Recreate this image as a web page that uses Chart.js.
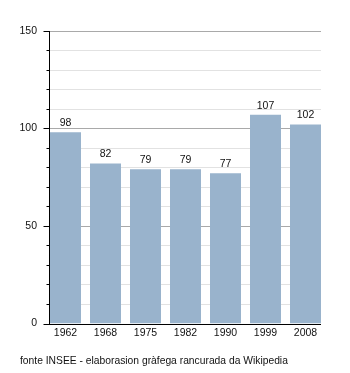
<!DOCTYPE html>
<html>
<head>
<meta charset="utf-8">
<script src="https://cdn.jsdelivr.net/npm/chart.js@4"></script>
<style>
  html, body { margin: 0; padding: 0; background: #fff; }
  #wrap { width: 350px; height: 373px; }
</style>
</head>
<body>
<div id="wrap"><canvas id="chart" width="350" height="373"></canvas></div>
<script>
const years = ['1962', '1968', '1975', '1982', '1990', '1999', '2008'];
const population = [98, 82, 79, 79, 77, 107, 102];
const yTicks = [0, 50, 100, 150];
const sourceNote = 'fonte INSEE - elaborasion gràfega rancurada da Wikipedia';

const FONT = '"Liberation Sans", Arial, sans-serif';

// axes, grid and labels drawn by hand so they line up with the outer bar edges
const axisPlugin = {
  id: 'axisPlugin',
  beforeDatasetsDraw(chart) {
    const ctx = chart.ctx;
    const y = chart.scales.y;
    const bars = chart.getDatasetMeta(0).data;
    const x0 = Math.round(bars[0].x - bars[0].width / 2);
    const x1 = Math.round(bars[bars.length - 1].x + bars[bars.length - 1].width / 2);
    ctx.save();
    ctx.lineWidth = 1;
    for (let v = 10; v <= 150; v += 10) {
      const py = Math.round(y.getPixelForValue(v)) + 0.5;
      ctx.strokeStyle = v % 50 === 0 ? '#a9a9a9' : '#e2e2e2';
      ctx.beginPath();
      ctx.moveTo(x0, py);
      ctx.lineTo(x1, py);
      ctx.stroke();
    }
    ctx.restore();
  },
  afterDatasetsDraw(chart) {
    const ctx = chart.ctx;
    const y = chart.scales.y;
    const meta = chart.getDatasetMeta(0);
    const bars = meta.data;
    const x0 = Math.round(bars[0].x - bars[0].width / 2);
    const x1 = Math.round(bars[bars.length - 1].x + bars[bars.length - 1].width / 2);
    const yTop = Math.round(y.getPixelForValue(150));
    const yBot = Math.round(y.getPixelForValue(0)) + 0.5;
    ctx.save();
    ctx.strokeStyle = '#000';
    ctx.lineWidth = 1;
    ctx.beginPath();
    ctx.moveTo(x0 - 0.5, yTop);
    ctx.lineTo(x0 - 0.5, yBot);
    ctx.moveTo(x0 - 1, yBot);
    ctx.lineTo(x1, yBot);
    for (let v = 0; v <= 150; v += 10) {
      const py = Math.round(y.getPixelForValue(v)) + 0.5;
      const len = v % 50 === 0 ? 6 : 3;
      ctx.moveTo(x0 - 0.5 - len, py);
      ctx.lineTo(x0 - 0.5, py);
    }
    ctx.stroke();

    ctx.fillStyle = '#111';
    ctx.font = '10.5px ' + FONT;
    ctx.textAlign = 'right';
    ctx.textBaseline = 'middle';
    yTicks.forEach(v => ctx.fillText(String(v), x0 - 13, y.getPixelForValue(v)));

    ctx.textAlign = 'center';
    bars.forEach((bar, i) => {
      ctx.fillText(years[i], bar.x, yBot + 8.5);
      ctx.fillText(String(population[i]), bar.x, bar.y - 9);
    });

    ctx.textAlign = 'left';
    ctx.font = '10.3px ' + FONT;
    ctx.fillText(sourceNote, 20, 361);
    ctx.restore();
  }
};

new Chart(document.getElementById('chart'), {
  type: 'bar',
  data: {
    labels: years,
    datasets: [{
      data: population,
      backgroundColor: '#99b3cc',
      borderWidth: 0,
      barPercentage: 0.775,
      categoryPercentage: 1
    }]
  },
  options: {
    responsive: false,
    animation: false,
    layout: {
      padding: { left: 45.5, right: 24.5, top: 30.7, bottom: 49.5 }
    },
    plugins: {
      legend: { display: false },
      tooltip: { enabled: false }
    },
    scales: {
      x: { display: false },
      y: { display: false, min: 0, max: 150 }
    }
  },
  plugins: [axisPlugin]
});
</script>
</body>
</html>
